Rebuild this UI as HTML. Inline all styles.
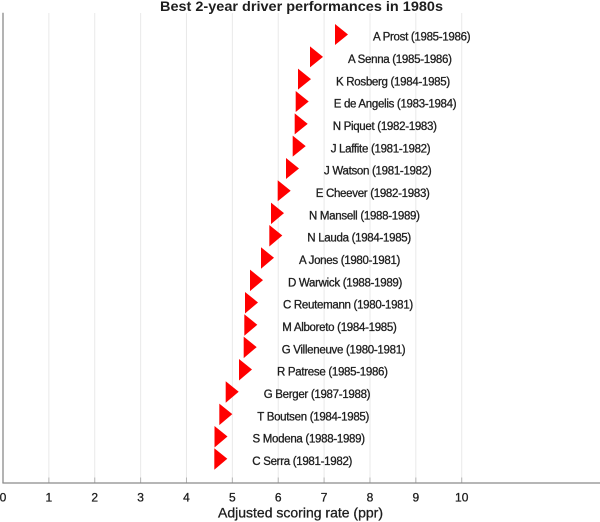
<!DOCTYPE html>
<html>
<head>
<meta charset="utf-8">
<style>
  html, body { margin: 0; padding: 0; background: #ffffff; }
  svg { display: block; }
  text { font-family: "Liberation Sans", sans-serif; fill: #1e1e1e; }
  .lbl { font-size: 11.5px; letter-spacing: -0.3px; stroke: #1e1e1e; stroke-width: 0.3px; }
  .tick { font-size: 12px; stroke: #1e1e1e; stroke-width: 0.3px; }
  .axt { stroke: #1e1e1e; stroke-width: 0.3px; }
</style>
</head>
<body>
<svg width="600" height="522" viewBox="0 0 600 522" xmlns="http://www.w3.org/2000/svg">
  <rect x="0" y="0" width="600" height="522" fill="#ffffff"/>
  <!-- title -->
  <text x="160" y="11" font-size="13.5" font-weight="bold" textLength="283" lengthAdjust="spacingAndGlyphs">Best 2-year driver performances in 1980s</text>

  <!-- gridlines -->
  <g stroke="#e9e9e9" stroke-width="1">
    <line x1="48.87" y1="13" x2="48.87" y2="483"/>
    <line x1="94.74" y1="13" x2="94.74" y2="483"/>
    <line x1="140.61" y1="13" x2="140.61" y2="483"/>
    <line x1="186.48" y1="13" x2="186.48" y2="483"/>
    <line x1="232.35" y1="13" x2="232.35" y2="483"/>
    <line x1="278.22" y1="13" x2="278.22" y2="483"/>
    <line x1="324.09" y1="13" x2="324.09" y2="483"/>
    <line x1="369.96" y1="13" x2="369.96" y2="483"/>
    <line x1="415.83" y1="13" x2="415.83" y2="483"/>
    <line x1="461.7" y1="13" x2="461.7" y2="483"/>
  </g>
  <!-- ticks -->
  <g stroke="#b5b5b5" stroke-width="1">
    <line x1="48.87" y1="477.5" x2="48.87" y2="483"/>
    <line x1="94.74" y1="477.5" x2="94.74" y2="483"/>
    <line x1="140.61" y1="477.5" x2="140.61" y2="483"/>
    <line x1="186.48" y1="477.5" x2="186.48" y2="483"/>
    <line x1="232.35" y1="477.5" x2="232.35" y2="483"/>
    <line x1="278.22" y1="477.5" x2="278.22" y2="483"/>
    <line x1="324.09" y1="477.5" x2="324.09" y2="483"/>
    <line x1="369.96" y1="477.5" x2="369.96" y2="483"/>
    <line x1="415.83" y1="477.5" x2="415.83" y2="483"/>
    <line x1="461.7" y1="477.5" x2="461.7" y2="483"/>
  </g>
  <!-- axes -->
  <line x1="3" y1="12.7" x2="3" y2="483" stroke="#8a8a8a" stroke-width="1.3"/>
  <line x1="2.4" y1="483" x2="600" y2="483" stroke="#8a8a8a" stroke-width="1.3"/>

  <!-- tick labels -->
  <g class="tick" text-anchor="middle">
    <text x="3" y="501.5">0</text>
    <text x="48.87" y="501.5">1</text>
    <text x="94.74" y="501.5">2</text>
    <text x="140.61" y="501.5">3</text>
    <text x="186.48" y="501.5">4</text>
    <text x="232.35" y="501.5">5</text>
    <text x="278.22" y="501.5">6</text>
    <text x="324.09" y="501.5">7</text>
    <text x="369.96" y="501.5">8</text>
    <text x="415.83" y="501.5">9</text>
    <text x="461.7" y="501.5">10</text>
  </g>
  <text class="axt" x="218" y="517.5" font-size="14" textLength="165" lengthAdjust="spacingAndGlyphs">Adjusted scoring rate (ppr)</text>

  <!-- markers -->
  <g fill="#ff0000">
    <polygon points="335,24 348,34.5 335,45"/>
    <polygon points="310,46.33 323,56.83 310,67.33"/>
    <polygon points="298,68.66 311,79.16 298,89.66"/>
    <polygon points="295.7,90.99 308.7,101.49 295.7,111.99"/>
    <polygon points="294.7,113.32 307.7,123.82 294.7,134.32"/>
    <polygon points="292.7,135.65 305.7,146.15 292.7,156.65"/>
    <polygon points="286,157.98 299,168.48 286,178.98"/>
    <polygon points="277.7,180.31 290.7,190.81 277.7,201.31"/>
    <polygon points="271,202.64 284,213.14 271,224.14"/>
    <polygon points="269.3,224.97 282.3,235.47 269.3,246.47"/>
    <polygon points="261,247.3 274,257.8 261,268.8"/>
    <polygon points="250,269.63 263,280.13 250,291.13"/>
    <polygon points="245,291.96 258,302.46 245,313.46"/>
    <polygon points="244.3,314.29 257.3,324.79 244.3,335.79"/>
    <polygon points="243.7,336.62 256.7,347.12 243.7,358.12"/>
    <polygon points="239,358.95 252,369.45 239,380.45"/>
    <polygon points="225.7,381.28 238.7,391.78 225.7,402.78"/>
    <polygon points="219.3,403.61 232.3,414.11 219.3,425.11"/>
    <polygon points="214.5,425.94 227.5,436.44 214.5,447.44"/>
    <polygon points="214.3,448.27 227.3,458.77 214.3,469.77"/>
  </g>

  <!-- labels -->
  <g class="lbl">
    <text x="373" y="40.7">A Prost (1985-1986)</text>
    <text x="348" y="63.03">A Senna (1985-1986)</text>
    <text x="336" y="85.36">K Rosberg (1984-1985)</text>
    <text x="333.7" y="107.69">E de Angelis (1983-1984)</text>
    <text x="332.7" y="130.02">N Piquet (1982-1983)</text>
    <text x="330.7" y="152.35">J Laffite (1981-1982)</text>
    <text x="324" y="174.68">J Watson (1981-1982)</text>
    <text x="315.7" y="197.01">E Cheever (1982-1983)</text>
    <text x="309" y="219.34">N Mansell (1988-1989)</text>
    <text x="307.3" y="241.67">N Lauda (1984-1985)</text>
    <text x="299" y="264">A Jones (1980-1981)</text>
    <text x="288" y="286.33">D Warwick (1988-1989)</text>
    <text x="283" y="308.66">C Reutemann (1980-1981)</text>
    <text x="282.3" y="330.99">M Alboreto (1984-1985)</text>
    <text x="281.7" y="353.32">G Villeneuve (1980-1981)</text>
    <text x="277" y="375.65">R Patrese (1985-1986)</text>
    <text x="263.7" y="397.98">G Berger (1987-1988)</text>
    <text x="257.3" y="420.31">T Boutsen (1984-1985)</text>
    <text x="252.5" y="442.64">S Modena (1988-1989)</text>
    <text x="252.3" y="464.97">C Serra (1981-1982)</text>
  </g>
</svg>
</body>
</html>
